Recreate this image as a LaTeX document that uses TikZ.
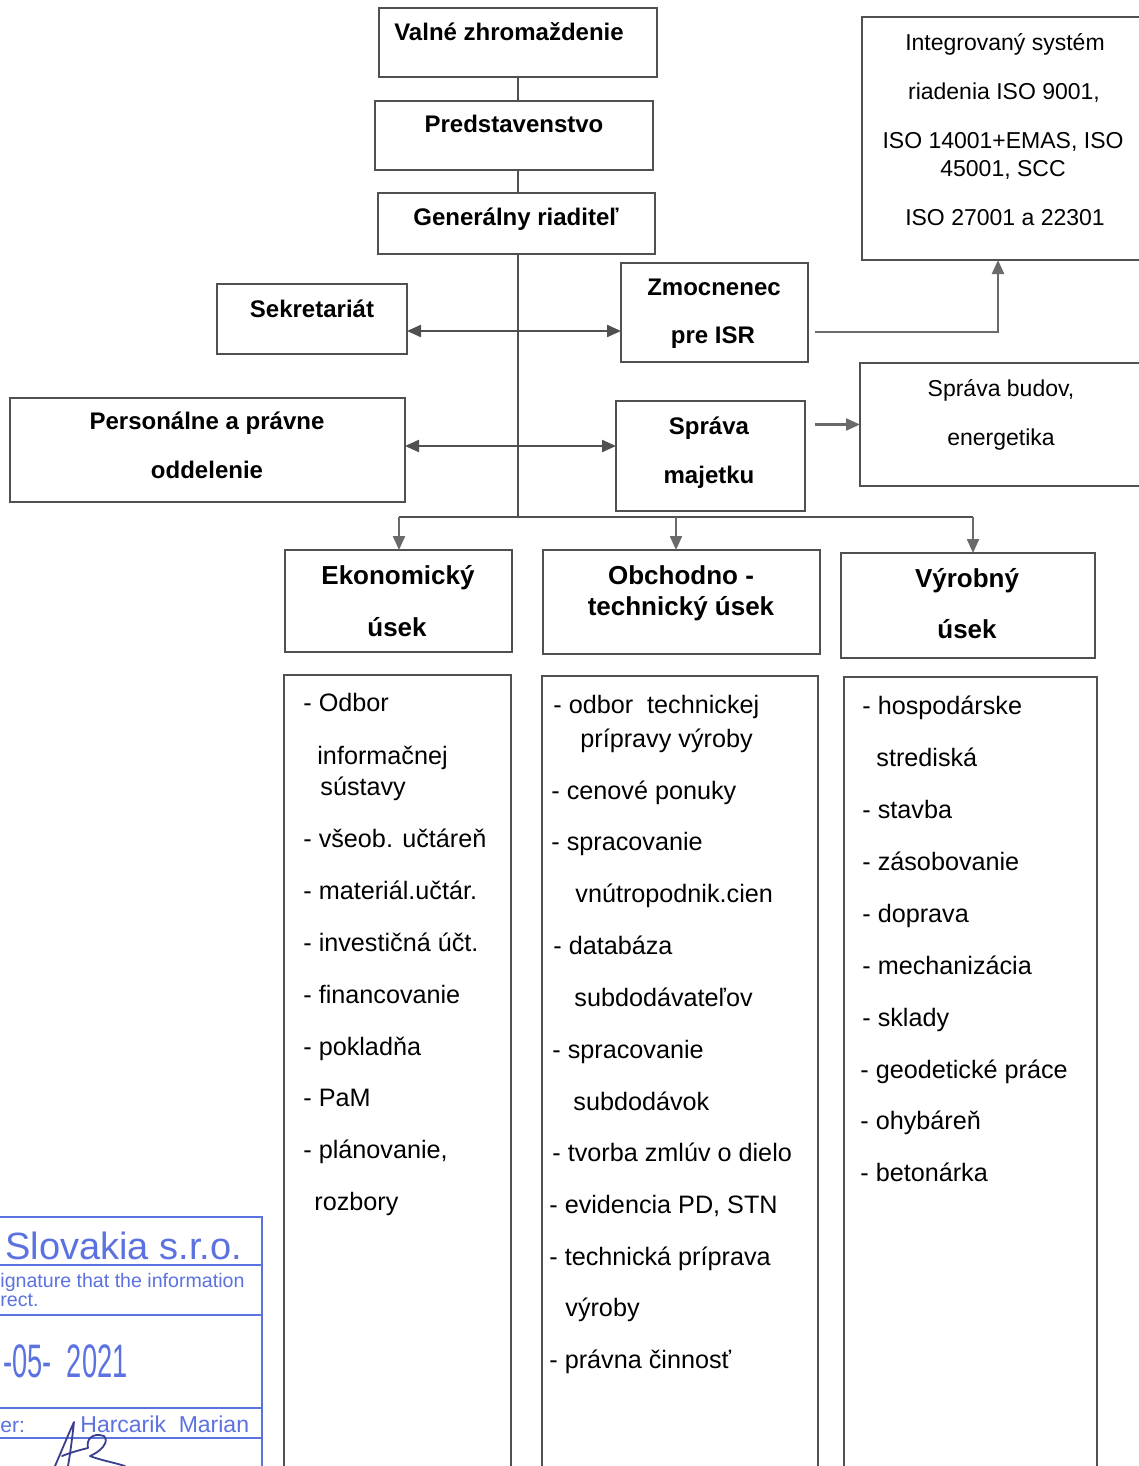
\documentclass[tikz,border=0pt]{standalone}
\usepackage{fontspec}
\setmainfont{Liberation Sans}
\usetikzlibrary{arrows.meta}
\definecolor{ln}{HTML}{505050}
\definecolor{tipc}{HTML}{6A6A6A}
\definecolor{stampblue}{HTML}{5B72E0}
\definecolor{signblue}{HTML}{3A3F8C}
\newcommand\bx[5]{\node[box,minimum width=#4*0.5pt,minimum height=#5*0.5pt] (#1) at (#2,#3) {};}
\begin{document}
\begin{tikzpicture}[x=0.5pt,y=-0.5pt,
  box/.style={draw=ln,line width=1.1pt,anchor=north west,inner sep=0pt,outer sep=0pt},
  con/.style={draw=ln,line width=1.1pt},
  tip/.style={-{Triangle[length=7pt,width=6pt]},tipc},
  ttip/.style={{Triangle[length=7pt,width=6pt]}-{Triangle[length=7pt,width=6pt]}},
  hb/.style={font=\fontsize{12}{14}\selectfont\bfseries,anchor=base,inner sep=0pt},
  hd/.style={font=\fontsize{13}{15}\selectfont\bfseries,anchor=base,inner sep=0pt},
  hr/.style={font=\fontsize{11.5}{14}\selectfont,anchor=base,inner sep=0pt},
  li/.style={font=\fontsize{12.6}{15}\selectfont,anchor=base west,inner sep=0pt},
  st/.style={text=stampblue,anchor=base west,inner sep=0pt}
]
\useasboundingbox (0,0) rectangle (1139,1466);
\clip (0,0) rectangle (1139,1466);
\fill[white] (0,0) rectangle (1139,1466);

% boxes
\bx{vz}{379}{8}{278}{69}
\bx{pr}{375}{101}{278}{69}
\bx{gr}{378}{193}{277}{61}
\bx{isr}{862}{17}{300}{243}
\bx{sek}{217}{284}{190}{70}
\bx{zm}{621}{263}{187}{99}
\bx{pers}{10}{398}{395}{104}
\bx{sm}{616}{401}{189}{110}
\bx{sb}{860}{363}{300}{123}
\bx{eko}{285}{550}{227}{102}
\bx{obch}{543}{550}{277}{104}
\bx{vyr}{841}{553}{254}{105}
\bx{la}{284}{675}{227}{900}
\bx{lb}{542}{676}{276}{900}
\bx{lc}{844}{677}{253}{900}

% box texts
\node[hb] (t1) at (509,41) {Valné zhromaždenie};
\node[hb] (t2) at (514,133) {Predstavenstvo};
\node[hb] (t3) at (516,226) {Generálny riaditeľ};
\node[hr] (t4) at (1005,51) {Integrovaný systém};
\node[hr] (t5) at (1004,100) {riadenia ISO 9001,};
\node[hr] (t6) at (1003,149) {ISO 14001+EMAS, ISO};
\node[hr] (t7) at (1003,177) {45001, SCC};
\node[hr] (t8) at (1005,226) {ISO 27001 a 22301};
\node[hb] (t9) at (312,317) {Sekretariát};
\node[hb] (t10) at (714,295) {Zmocnenec};
\node[hb] (t11) at (713,343) {pre ISR};
\node[hb] (t12) at (207,429) {Personálne a právne};
\node[hb] (t13) at (207,478) {oddelenie};
\node[hb] (t14) at (709,434) {Správa};
\node[hb] (t15) at (709,483) {majetku};
\node[hr] (t16) at (1001,396) {Správa budov,};
\node[hr] (t17) at (1001,445) {energetika};
\node[hd] (t18) at (398,584) {Ekonomický};
\node[hd] (t19) at (397,636) {úsek};
\node[hd] (t20) at (681,584) {Obchodno -};
\node[hd] (t21) at (681,615) {technický úsek};
\node[hd] (t22) at (967,587) {Výrobný};
\node[hd] (t23) at (967,638) {úsek};

% list texts
\foreach \x/\y/\t [count=\i] in {303/702/{- Odbor},317/755/{informačnej},320/786/{sústavy},
  303/838/{- všeob. učtáreň},303/890/{- materiál.učtár.},303/942/{- investičná účt.},
  303/994/{- financovanie},303/1046/{- pokladňa},303/1097/{- PaM},303/1149/{- plánovanie,},
  314/1201/{rozbory}}
  \node[li] (ea\i) at (\x,\y+9) {\t};
\foreach \x/\y/\t [count=\i] in {553/704/{- odbor\ \ technickej},580/738/{prípravy výroby},
  551/790/{- cenové ponuky},551/841/{- spracovanie},575/893/{vnútropodnik.cien},
  553/945/{- databáza},574/997/{subdodávateľov},552/1049/{- spracovanie},573/1101/{subdodávok},
  552/1152/{- tvorba zmlúv o dielo},549/1204/{- evidencia PD, STN},549/1256/{- technická príprava},
  565/1307/{výroby},549/1359/{- právna činnosť}}
  \node[li] (ob\i) at (\x,\y+9) {\t};
\foreach \x/\y/\t [count=\i] in {862/705/{- hospodárske},876/757/{strediská},862/809/{- stavba},
  862/861/{- zásobovanie},862/913/{- doprava},862/965/{- mechanizácia},862/1017/{- sklady},
  860/1069/{- geodetické práce},860/1120/{- ohybáreň},860/1172/{- betonárka}}
  \node[li] (vy\i) at (\x,\y+9) {\t};

% connectors
\coordinate (trunk) at (518,517);
\draw[con] (vz.south -| trunk) -- (pr.north -| trunk);
\draw[con] (pr.south -| trunk) -- (gr.north -| trunk);
\draw[con] (gr.south -| trunk) -- (trunk);
\draw[con,ttip] ([yshift=-6pt]sek.east) -- ([yshift=-6pt]sek.east -| zm.west);
\draw[con,ttip] ([yshift=2pt]pers.east) -- ([yshift=2pt]pers.east -| sm.west);
\coordinate (k) at (998,332);
\draw[con,tip] ([xshift=3.5pt]zm.east |- k) -- (k) -- (k |- isr.south);
\draw[con,tip] ([xshift=5pt]sm.east |- sb.west) -- (sb.west);
\coordinate (b1) at (399,517);
\coordinate (b2) at (676,517);
\coordinate (b3) at (973,517);
\draw[con] (b1) -- (b3);
\draw[con,tip] (b1) -- (b1 |- eko.north);
\draw[con,tip] (b2) -- (b2 |- obch.north);
\draw[con,tip] (b3) -- (b3 |- vyr.north);

% stamp
\begin{scope}[stampblue,line width=1.2pt]
  \draw (-5,1217) -- (262,1217) -- (262,1470);
  \draw (-5,1265) -- (262,1265);
  \draw (-5,1315) -- (262,1315);
  \draw (-5,1408) -- (262,1408);
  \draw (-5,1438) -- (262,1438);
\end{scope}
\node[st,font=\fontsize{19}{22}\selectfont] (s1) at (5,1259) {Slovakia s.r.o.};
\node[st,font=\fontsize{9.8}{12}\selectfont] (s2) at (0,1287) {ignature that the information};
\node[st,font=\fontsize{9.8}{12}\selectfont] (s3) at (0,1306) {rect.};
\node[st,font=\fontsize{23.5}{26}\selectfont] (s4) at (3,1377) {\scalebox{0.58}[1]{-05-\ \ 2021}};
\node[st,font=\fontsize{10.5}{12}\selectfont] (s5) at (0,1432) {er:};
\node[st,font=\fontsize{11.5}{14}\selectfont] (s6) at (80,1432) {Harcarik\ \ Marian};
\draw[signblue,line width=0.9pt,line cap=round,line join=round]
  (55,1466) .. controls (62,1450) and (68,1435) .. (74,1422)
  .. controls (72,1440) and (70,1455) .. (68,1466);
\draw[signblue,line width=0.9pt,line cap=round,line join=round]
  (62,1456) .. controls (72,1452) and (80,1450) .. (88,1448)
  .. controls (86,1440) and (92,1432) .. (104,1436)
  .. controls (110,1442) and (100,1452) .. (90,1456)
  .. controls (100,1460) and (112,1462) .. (125,1466);
\end{tikzpicture}
\end{document}
